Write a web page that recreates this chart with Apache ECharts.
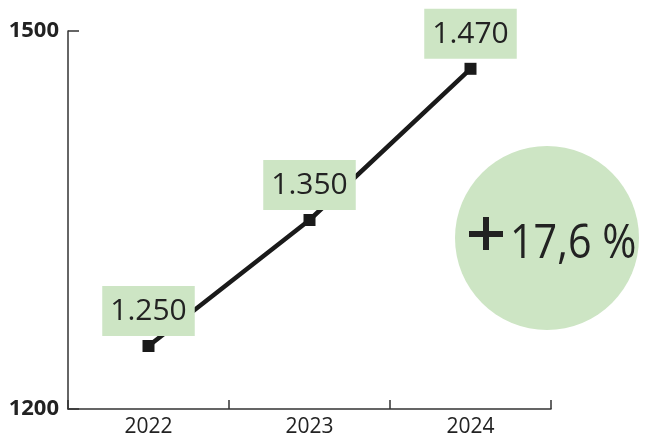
<!DOCTYPE html>
<html>
<head>
<meta charset="utf-8">
<script src="https://cdn.jsdelivr.net/npm/echarts@6/dist/echarts.min.js"></script>
<style>html,body{margin:0;padding:0;background:#fff}#c{width:649px;height:443px}</style>
</head>
<body>
<div id="c"></div>
<script>
var categories = ['2022', '2023', '2024'];
var values = [1250, 1350, 1470];
var valueLabels = ['1.250', '1.350', '1.470'];
var yTicks = [1200, 1500];
var changeText = '17,6 %';

var green = '#cde5c4';
var ink = '#222';
var chart = echarts.init(document.getElementById('c'), null, {renderer: 'canvas'});
chart.setOption({
  animation: false,
  backgroundColor: '#fff',
  grid: {left: 68, right: 98, top: 31, bottom: 34},
  xAxis: {
    type: 'category',
    data: categories,
    boundaryGap: true,
    axisLine: {lineStyle: {color: '#333', width: 1.5}},
    axisTick: {show: true, interval: 0, inside: true, length: 9, lineStyle: {color: '#333', width: 1.5}},
    axisLabel: {color: ink, fontSize: 21, fontFamily: 'Open Sans', margin: 8}
  },
  yAxis: {
    type: 'value',
    min: yTicks[0],
    max: yTicks[1],
    interval: yTicks[1] - yTicks[0],
    splitLine: {show: false},
    axisLine: {show: true, lineStyle: {color: '#333', width: 1.5}},
    axisTick: {show: true, inside: true, length: 11, lineStyle: {color: '#333', width: 1.5}},
    axisLabel: {color: ink, fontSize: 22, fontWeight: 'bold', fontFamily: 'Open Sans', margin: 9,
      formatter: function (v) { return String(v); }}
  },
  series: [{
    type: 'line',
    data: values,
    symbol: 'rect',
    symbolSize: 12,
    lineStyle: {color: '#1a1a1a', width: 4.5},
    itemStyle: {color: '#1a1a1a'},
    label: {
      show: true,
      position: 'top',
      distance: 4,
      formatter: function (p) { return valueLabels[p.dataIndex]; },
      backgroundColor: green,
      color: ink,
      fontSize: 30,
      fontFamily: 'Open Sans',
      lineHeight: 33,
      padding: [9, 8, 8, 8]
    }
  }],
  graphic: [
    {type: 'circle', shape: {cx: 547, cy: 238, r: 92}, style: {fill: green}, z: 1},
    {type: 'rect', shape: {x: 469, y: 231, width: 34, height: 6}, style: {fill: ink}, z: 2},
    {type: 'rect', shape: {x: 483, y: 217, width: 6, height: 33}, style: {fill: ink}, z: 2},
    {type: 'text', x: 510, y: 220, scaleX: 0.86, style: {text: changeText, font: '48px "Open Sans"', fill: ink, align: 'left', verticalAlign: 'top'}, z: 2}
  ]
});
</script>
</body>
</html>
